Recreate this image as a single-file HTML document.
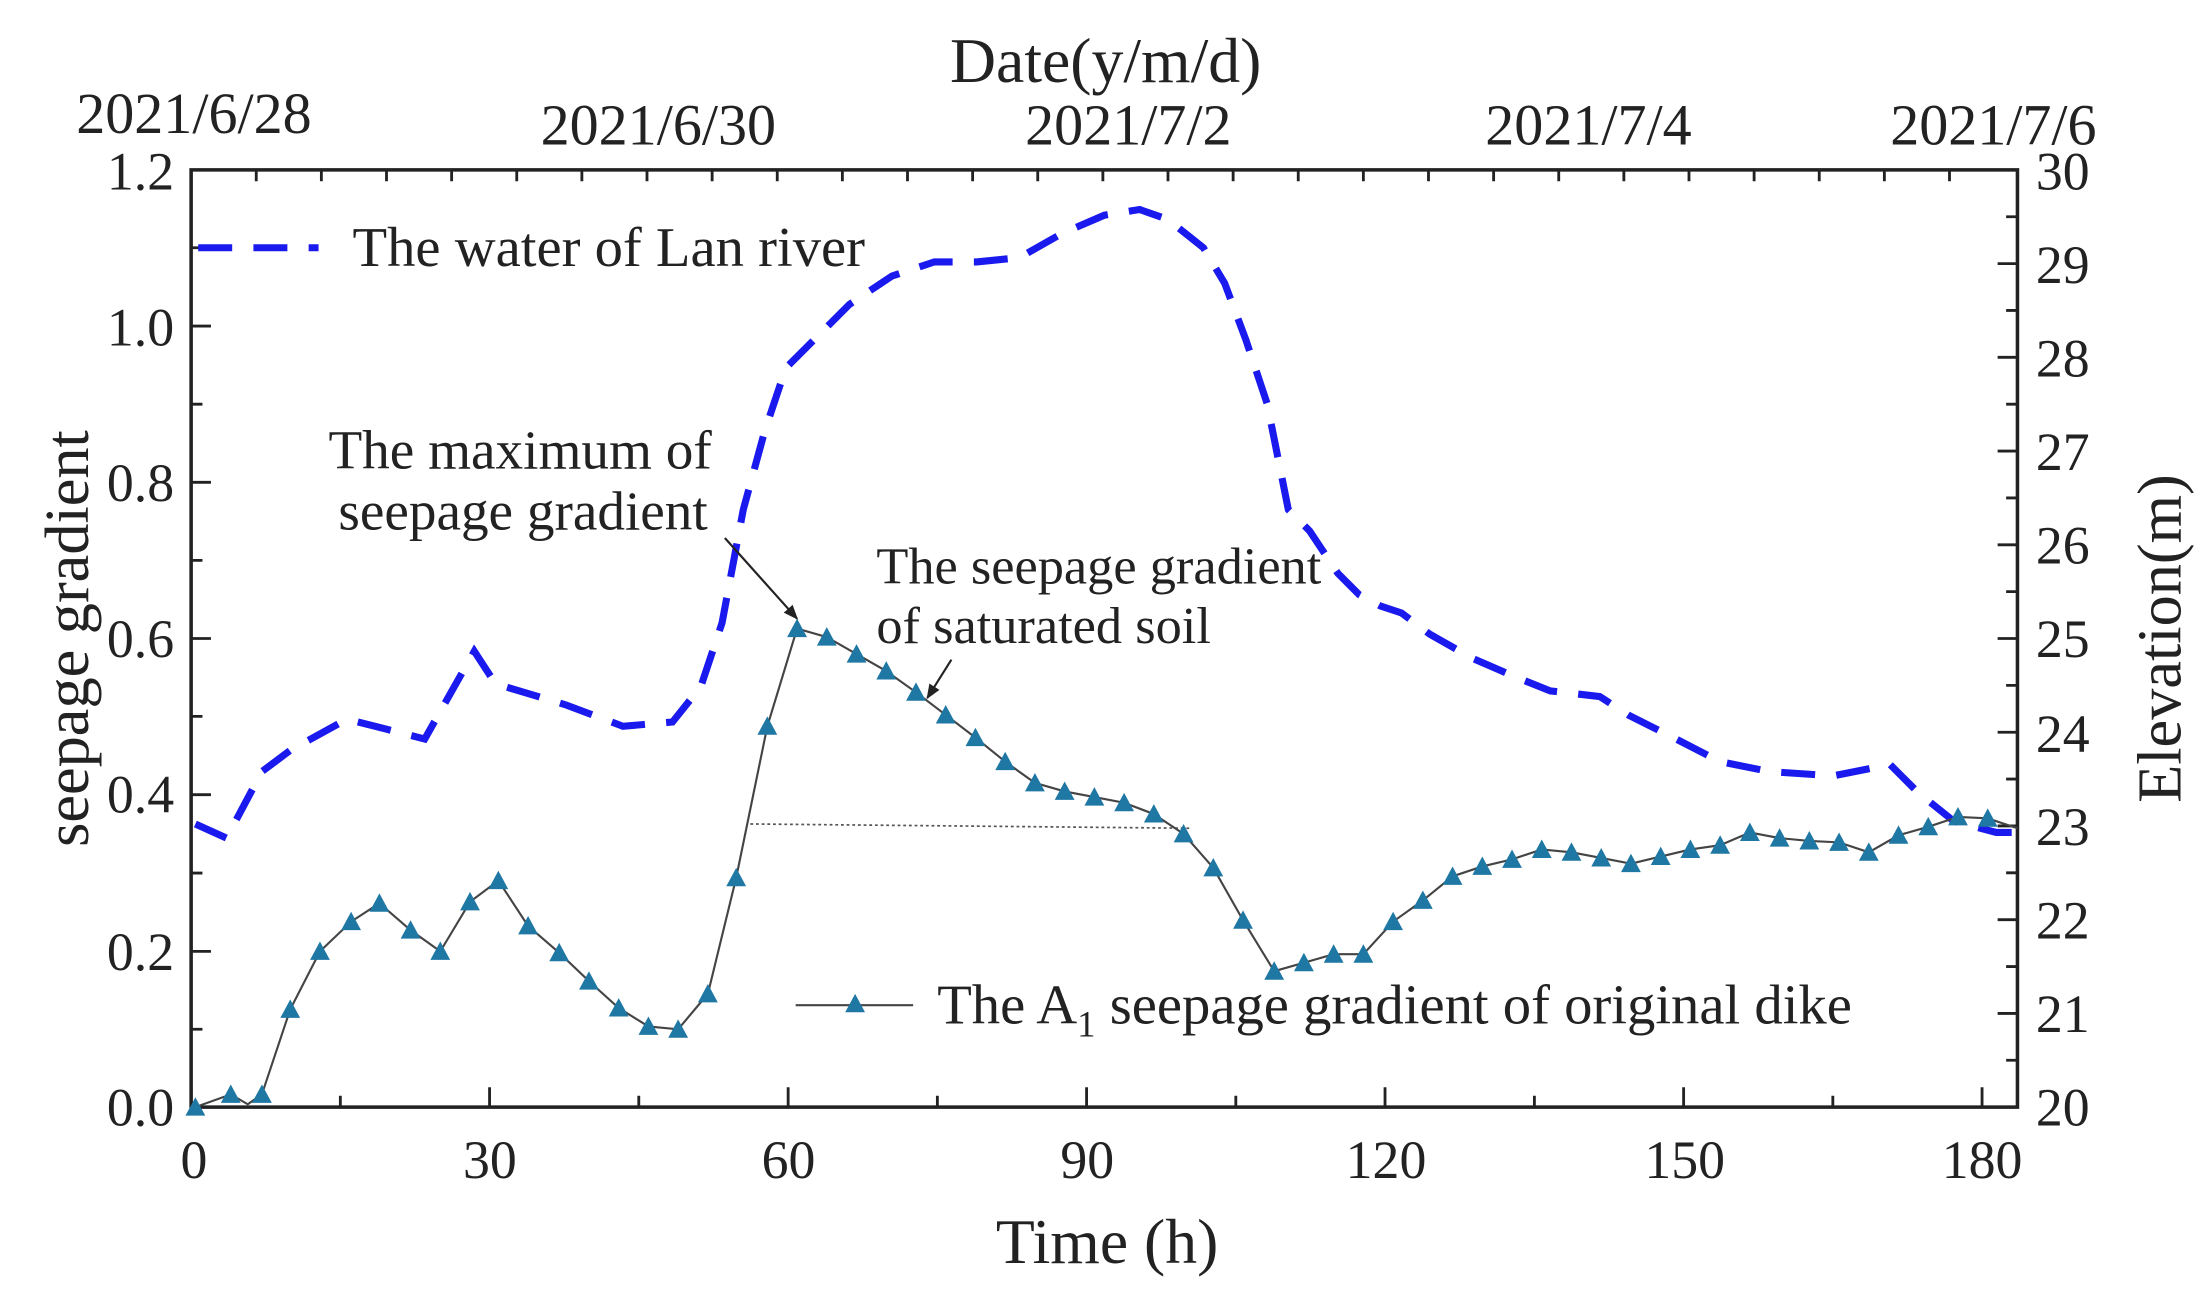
<!DOCTYPE html>
<html><head><meta charset="utf-8"><style>
html,body{margin:0;padding:0;background:#fff}
svg{display:block}
text{font-family:"Liberation Serif",serif;fill:#222}
</style></head><body>
<svg width="2209" height="1294" viewBox="0 0 1560.3 914" preserveAspectRatio="none" xmlns="http://www.w3.org/2000/svg">
<defs>
<marker id="ar" viewBox="0 0 10 10" refX="9" refY="5" markerWidth="7" markerHeight="7" orient="auto"><path d="M0,1 L10,5 L0,9 z" fill="#222"/></marker>
<symbol id="tri" viewBox="-7 -7 14 14" overflow="visible"><path d="M0,-7 L7,6 L-7,6 z" fill="#1f77a4"/></symbol>
</defs>
<rect x="135" y="120" width="1290" height="662" fill="none" stroke="#222" stroke-width="2.5"/>
<g stroke="#222" stroke-width="2">
<path d="M135,782v-14M345.8,782v-14M556.7,782v-14M767.5,782v-14M978.3,782v-14M1189.2,782v-14M1400,782v-14"/>
<path d="M240.4,782v-8M451.2,782v-8M662.1,782v-8M872.9,782v-8M1083.8,782v-8M1294.6,782v-8"/>
<path d="M135,120v14M181,120v8M227,120v8M273,120v8M319,120v8M365,120v8M411,120v8M457,120v8M503,120v8M549,120v8M595,120v8M641,120v8M687,120v8M733,120v8M779,120v8M825,120v8M871,120v8M917,120v8M963,120v8M1009,120v8M1055,120v8M1101,120v8M1147,120v8M1193,120v8M1239,120v8M1285,120v8M1331,120v8M1377,120v8"/>
<path d="M135,782h14M135,672h14M135,561.3h14M135,451h14M135,340.7h14M135,230.3h14M135,120h14"/>
<path d="M135,727h8M135,616.7h8M135,506h8M135,395.8h8M135,285.5h8M135,175h8"/>
<path d="M1425,782h-14M1425,715.8h-14M1425,649.6h-14M1425,583.4h-14M1425,517.2h-14M1425,451h-14M1425,384.8h-14M1425,318.6h-14M1425,252.4h-14M1425,186.2h-14"/>
<path d="M1425,748.9h-8M1425,682.7h-8M1425,616.5h-8M1425,550.3h-8M1425,484.1h-8M1425,417.9h-8M1425,351.7h-8M1425,285.5h-8M1425,219.3h-8M1425,153.1h-8"/>
</g>
<g font-size="38" text-anchor="middle">
<text x="137" y="832">0</text><text x="346" y="832">30</text><text x="557" y="832">60</text><text x="768" y="832">90</text><text x="979" y="832">120</text><text x="1190" y="832">150</text><text x="1400" y="832">180</text>
</g>
<g font-size="38" text-anchor="end">
<text x="123" y="795">0.0</text><text x="123" y="685">0.2</text><text x="123" y="574">0.4</text><text x="123" y="464">0.6</text><text x="123" y="354">0.8</text><text x="123" y="244">1.0</text><text x="123" y="134">1.2</text>
</g>
<g font-size="38">
<text x="1438" y="795">20</text><text x="1438" y="729">21</text><text x="1438" y="663">22</text><text x="1438" y="597">23</text><text x="1438" y="531">24</text><text x="1438" y="464">25</text><text x="1438" y="398">26</text><text x="1438" y="332">27</text><text x="1438" y="266">28</text><text x="1438" y="200">29</text><text x="1438" y="134">30</text>
</g>
<g font-size="41" text-anchor="middle">
<text x="137" y="94">2021/6/28</text><text x="465" y="102">2021/6/30</text><text x="797" y="102">2021/7/2</text><text x="1122" y="102">2021/7/4</text><text x="1408" y="102">2021/7/6</text>
</g>
<text x="781" y="58" font-size="45" text-anchor="middle">Date(y/m/d)</text>
<text x="782" y="892" font-size="45" text-anchor="middle">Time (h)</text>
<text transform="translate(62,451) rotate(-90)" font-size="44" text-anchor="middle">seepage gradient</text>
<text transform="translate(1540,451) rotate(-90)" font-size="44" text-anchor="middle">Elevation(m)</text>
<polyline fill="none" stroke="#1a1aee" stroke-width="5" stroke-dasharray="24,15" points="138,582 160,592 185,545 205,530 245,508 265,513 300,522 335,460 350,483 400,498 440,513 475,510 495,485 510,440 525,360 540,305 555,260 575,240 600,215 630,195 660,185 690,185 720,182 750,165 780,152 805,148 825,155 850,175 865,200 880,240 895,285 910,360 925,375 945,405 960,420 975,428 990,433 1010,448 1040,465 1070,478 1095,488 1130,492 1150,505 1180,520 1215,538 1250,545 1295,548 1335,540 1355,560 1380,580 1410,588 1425,588"/>
<line x1="140" y1="175" x2="225" y2="175" stroke="#1a1aee" stroke-width="5" stroke-dasharray="24,15"/>
<text x="249" y="188" font-size="40">The water of Lan river</text>
<line x1="530" y1="582" x2="840" y2="585" stroke="#555" stroke-width="1.2" stroke-dasharray="2,2"/>
<polyline fill="none" stroke="#444" stroke-width="1.5" points="138,782 163,773 175,780 185,773 205,713 226,672 248,651 268,638 290,657 311,672 332,637 352,622 373,654 395,673 416,693 437,712 458,725 479,727 500,702 520,620 542,513 563,444 584,450 605,462 626,474 647,489 668,505 689,521 710,538 731,553 752,559 773,563 794,567 815,575 836,589 857,613 878,650 900,686 921,680 942,674 963,674 984,651 1005,636 1026,619 1047,612 1068,607 1089,600 1110,602 1131,606 1152,610 1173,605 1194,600 1215,597 1236,588 1257,592 1278,594 1299,595 1320,602 1341,590 1362,584 1383,577 1404,578 1425,585"/>
<g>
<use href="#tri" x="131" y="775" width="14" height="14"/><use href="#tri" x="156" y="766" width="14" height="14"/><use href="#tri" x="178" y="766" width="14" height="14"/><use href="#tri" x="198" y="706" width="14" height="14"/><use href="#tri" x="219" y="665" width="14" height="14"/><use href="#tri" x="241" y="644" width="14" height="14"/><use href="#tri" x="261" y="631" width="14" height="14"/><use href="#tri" x="283" y="650" width="14" height="14"/><use href="#tri" x="304" y="665" width="14" height="14"/><use href="#tri" x="325" y="630" width="14" height="14"/><use href="#tri" x="345" y="615" width="14" height="14"/><use href="#tri" x="366" y="647" width="14" height="14"/><use href="#tri" x="388" y="666" width="14" height="14"/><use href="#tri" x="409" y="686" width="14" height="14"/><use href="#tri" x="430" y="705" width="14" height="14"/><use href="#tri" x="451" y="718" width="14" height="14"/><use href="#tri" x="472" y="720" width="14" height="14"/><use href="#tri" x="493" y="695" width="14" height="14"/><use href="#tri" x="513" y="613" width="14" height="14"/><use href="#tri" x="535" y="506" width="14" height="14"/><use href="#tri" x="556" y="437" width="14" height="14"/><use href="#tri" x="577" y="443" width="14" height="14"/><use href="#tri" x="598" y="455" width="14" height="14"/><use href="#tri" x="619" y="467" width="14" height="14"/><use href="#tri" x="640" y="482" width="14" height="14"/><use href="#tri" x="661" y="498" width="14" height="14"/><use href="#tri" x="682" y="514" width="14" height="14"/><use href="#tri" x="703" y="531" width="14" height="14"/><use href="#tri" x="724" y="546" width="14" height="14"/><use href="#tri" x="745" y="552" width="14" height="14"/><use href="#tri" x="766" y="556" width="14" height="14"/><use href="#tri" x="787" y="560" width="14" height="14"/><use href="#tri" x="808" y="568" width="14" height="14"/><use href="#tri" x="829" y="582" width="14" height="14"/><use href="#tri" x="850" y="606" width="14" height="14"/><use href="#tri" x="871" y="643" width="14" height="14"/><use href="#tri" x="893" y="679" width="14" height="14"/><use href="#tri" x="914" y="673" width="14" height="14"/><use href="#tri" x="935" y="667" width="14" height="14"/><use href="#tri" x="956" y="667" width="14" height="14"/><use href="#tri" x="977" y="644" width="14" height="14"/><use href="#tri" x="998" y="629" width="14" height="14"/><use href="#tri" x="1019" y="612" width="14" height="14"/><use href="#tri" x="1040" y="605" width="14" height="14"/><use href="#tri" x="1061" y="600" width="14" height="14"/><use href="#tri" x="1082" y="593" width="14" height="14"/><use href="#tri" x="1103" y="595" width="14" height="14"/><use href="#tri" x="1124" y="599" width="14" height="14"/><use href="#tri" x="1145" y="603" width="14" height="14"/><use href="#tri" x="1166" y="598" width="14" height="14"/><use href="#tri" x="1187" y="593" width="14" height="14"/><use href="#tri" x="1208" y="590" width="14" height="14"/><use href="#tri" x="1229" y="581" width="14" height="14"/><use href="#tri" x="1250" y="585" width="14" height="14"/><use href="#tri" x="1271" y="587" width="14" height="14"/><use href="#tri" x="1292" y="588" width="14" height="14"/><use href="#tri" x="1313" y="595" width="14" height="14"/><use href="#tri" x="1334" y="583" width="14" height="14"/><use href="#tri" x="1355" y="577" width="14" height="14"/><use href="#tri" x="1376" y="570" width="14" height="14"/><use href="#tri" x="1397" y="571" width="14" height="14"/>
</g>
<line x1="562" y1="710" x2="645" y2="710" stroke="#444" stroke-width="1.5"/>
<use href="#tri" x="597" y="702" width="14" height="14"/>
<text x="662" y="723" font-size="40">The A<tspan font-size="26" dy="9">1</tspan><tspan dy="-9"> seepage gradient of original dike</tspan></text>
<text x="232" y="331" font-size="39">The maximum of</text>
<text x="239" y="374" font-size="39">seepage gradient</text>
<line x1="512" y1="380" x2="563" y2="437" stroke="#222" stroke-width="1.5" marker-end="url(#ar)"/>
<text x="619" y="412" font-size="37">The seepage gradient</text>
<text x="619" y="454" font-size="37">of saturated soil</text>
<line x1="672" y1="466" x2="655" y2="493" stroke="#222" stroke-width="1.5" marker-end="url(#ar)"/>
</svg>
</body></html>
